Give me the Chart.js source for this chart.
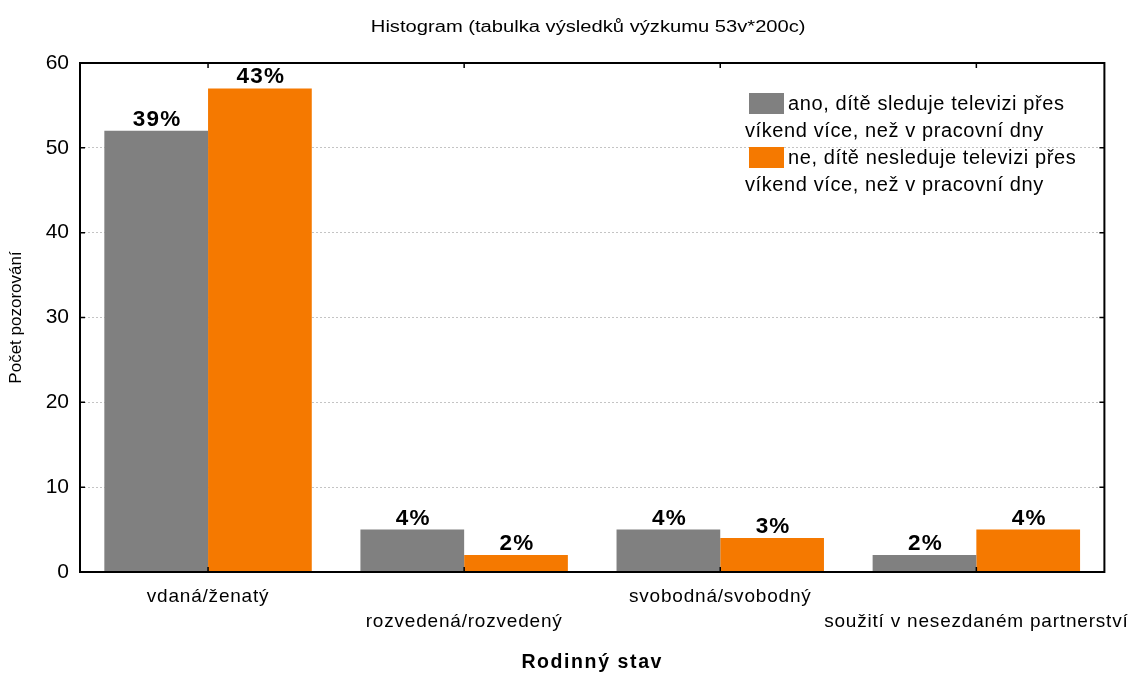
<!DOCTYPE html>
<html>
<head>
<meta charset="utf-8">
<script src="https://cdn.jsdelivr.net/npm/chart.js@4"></script>
<style>
  html, body { margin: 0; padding: 0; background: #fff; }
  #wrap { width: 1131px; height: 675px; position: relative; }
</style>
</head>
<body>
<div id="wrap"><canvas id="histChart" width="1131" height="675"></canvas></div>
<script>
// data
const categories = ["vdaná/ženatý", "rozvedená/rozvedený", "svobodná/svobodný", "soužití v nesezdaném partnerství"];
const anoValues = [52, 5, 5, 2];
const neValues = [57, 2, 4, 5];
const anoPct = ["39%", "4%", "4%", "2%"];
const nePct = ["43%", "2%", "3%", "4%"];
const yTicks = [0, 10, 20, 30, 40, 50, 60];
const legendLines = [
  ["ano, dítě sleduje televizi přes", "víkend více, než v pracovní dny"],
  ["ne, dítě nesleduje televizi přes", "víkend více, než v pracovní dny"],
];
const chartTitle = "Histogram (tabulka výsledků výzkumu 53v*200c)";

const FONT = "'Liberation Sans', Arial, sans-serif";
const GRAY = "#808080";
const ORANGE = "#f57900";

// the original output has slightly wide letter spacing, canvas can do that
function spaced(scale, method, px) {
  if (scale["_sp_" + method]) return;
  const orig = scale[method];
  scale[method] = function (...args) {
    const ctx = this.ctx;
    const old = ctx.letterSpacing;
    ctx.letterSpacing = px;
    orig.apply(this, args);
    ctx.letterSpacing = old;
  };
  scale["_sp_" + method] = true;
}

// frame, inner ticks, bar labels, legend, title
const overlay = {
  id: "overlay",
  beforeDraw(chart) {
    spaced(chart.scales.x, "drawLabels", "0.8px");
    spaced(chart.scales.x, "drawTitle", "1.6px");
  },
  afterDatasetsDraw(chart) {
    const { ctx, chartArea: a, scales } = chart;
    ctx.save();
    // frame
    ctx.strokeStyle = "#000";
    ctx.lineWidth = 2;
    ctx.strokeRect(a.left, a.top, a.right - a.left, a.bottom - a.top);
    // inner ticks
    ctx.lineWidth = 1.5;
    ctx.beginPath();
    yTicks.forEach(v => {
      const y = scales.y.getPixelForValue(v);
      ctx.moveTo(a.left, y); ctx.lineTo(a.left + 5, y);
      ctx.moveTo(a.right, y); ctx.lineTo(a.right - 5, y);
    });
    categories.forEach((c, i) => {
      const x = scales.x.getPixelForValue(i);
      ctx.moveTo(x, a.bottom); ctx.lineTo(x, a.bottom - 5);
      ctx.moveTo(x, a.top); ctx.lineTo(x, a.top + 5);
    });
    ctx.stroke();

    // percent labels above bars
    ctx.fillStyle = "#000";
    ctx.font = "bold 22.5px " + FONT;
    ctx.letterSpacing = "1.2px";
    ctx.textAlign = "center";
    ctx.textBaseline = "alphabetic";
    [anoPct, nePct].forEach((labels, di) => {
      chart.getDatasetMeta(di).data.forEach((bar, i) => {
        ctx.fillText(labels[i], bar.x + 1, bar.y - 5);
      });
    });

    // legend
    ctx.font = "20px " + FONT;
    ctx.letterSpacing = "0.6px";
    ctx.textAlign = "left";
    ctx.textBaseline = "middle";
    const lx = 749, ly = 93;
    chart.data.datasets.forEach((ds, di) => {
      const y0 = ly + di * 54;
      ctx.fillStyle = ds.backgroundColor;
      ctx.fillRect(lx, y0, 35, 21);
      ctx.fillStyle = "#000";
      ctx.fillText(legendLines[di][0], lx + 39, y0 + 11);
      ctx.fillText(legendLines[di][1], lx - 4, y0 + 38);
    });

    // title, a bit stretched like in the original
    ctx.font = "16px " + FONT;
    ctx.letterSpacing = "0px";
    ctx.textAlign = "center";
    ctx.translate((a.left + a.right) / 2 - 4, 28);
    ctx.scale(1.26, 1);
    ctx.fillText(chartTitle, 0, 0);
    ctx.restore();
  },
};

new Chart(document.getElementById("histChart").getContext("2d"), {
  type: "bar",
  data: {
    labels: categories,
    datasets: [
      { label: legendLines[0].join(" "), data: anoValues, backgroundColor: GRAY },
      { label: legendLines[1].join(" "), data: neValues, backgroundColor: ORANGE },
    ],
  },
  options: {
    responsive: false,
    animation: false,
    layout: { padding: { top: 63, right: 26, left: 0, bottom: 0 } },
    categoryPercentage: 0.81,
    barPercentage: 1,
    plugins: {
      legend: { display: false },
      tooltip: { enabled: false },
    },
    scales: {
      x: {
        grid: { display: false, drawTicks: false },
        border: { display: false },
        ticks: {
          color: "#000",
          font: { family: FONT, size: 19, lineHeight: 1.316 },
          padding: 12,
          maxRotation: 0,
          autoSkip: false,
          callback: (v, i) => (i % 2 ? ["", categories[i]] : categories[i]),
        },
        title: {
          display: true,
          text: "Rodinný stav",
          color: "#000",
          font: { family: FONT, size: 19.5, weight: "bold" },
          padding: { top: 0, bottom: 1 },
        },
        afterFit: s => { s.height = 103; },
      },
      y: {
        min: 0,
        max: 60,
        grid: { color: "#c4c4c4", drawTicks: false },
        border: { display: false, dash: [2, 2] },
        ticks: {
          stepSize: 10,
          color: "#000",
          font: { family: FONT, size: 21 },
          padding: 11,
        },
        title: {
          display: true,
          text: "Počet pozorování",
          color: "#000",
          font: { family: FONT, size: 17 },
          padding: { top: 6, bottom: 0 },
        },
        afterFit: s => { s.width = 80; },
      },
    },
  },
  plugins: [overlay],
});
</script>
</body>
</html>
